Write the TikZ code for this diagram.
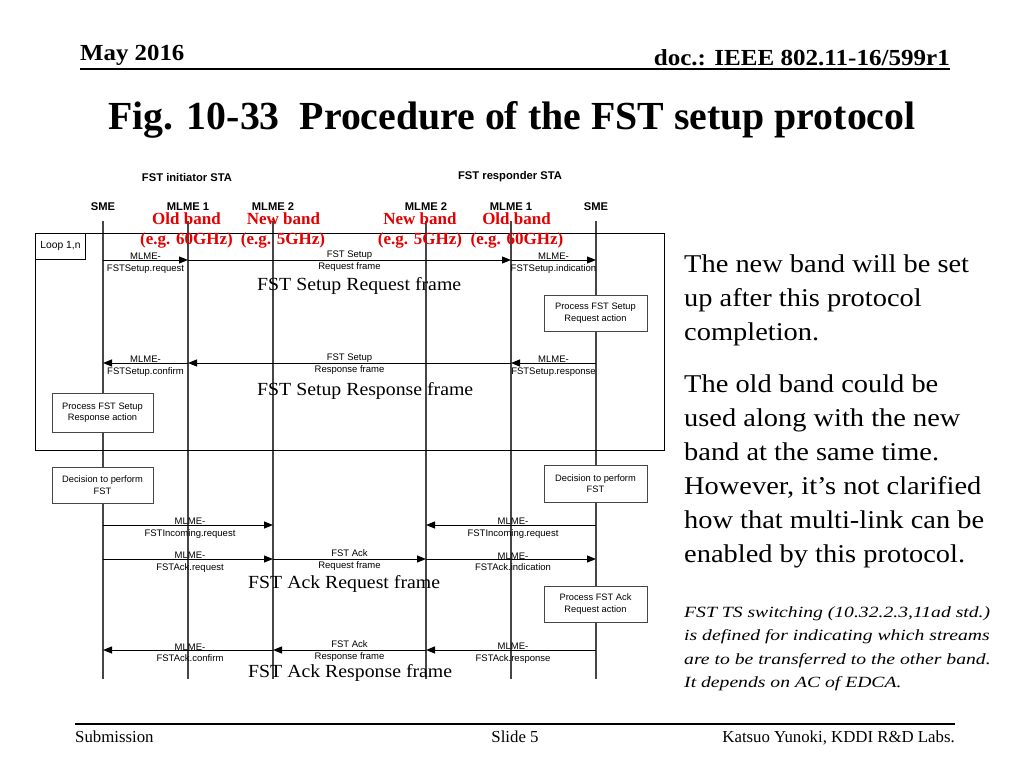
\documentclass[tikz,border=0pt]{standalone}
\usepackage{fontspec}
\usepackage{graphicx}
\setmainfont{Liberation Serif}
\newfontfamily\arial{Liberation Sans}
\usetikzlibrary{arrows.meta}
\definecolor{bandred}{RGB}{228,0,0}
\definecolor{lifegray}{RGB}{70,70,70}
\newcommand{\hstretch}[2]{\scalebox{#1}[1]{#2}}
\tikzset{
  life/.style={draw=lifegray, line width=1.3pt},
  msg/.style={draw=black, line width=1pt, -{Triangle[length=9pt,width=7pt]}},
  mlbl/.style={font=\arial\fontsize{9.5}{11.5}\selectfont, align=center, inner sep=0pt},
  hdr/.style={font=\arial\bfseries\fontsize{11.2}{12}\selectfont, inner sep=0pt},
  actbox/.style={draw=lifegray, fill=white, line width=1pt, font=\arial\fontsize{9.3}{11.5}\selectfont, align=center, inner sep=0pt},
  band/.style={font=\bfseries\fontsize{17}{18}\selectfont, text=bandred, inner sep=0pt},
  big/.style={font=\fontsize{18.5}{20}\selectfont, inner sep=0pt, anchor=west},
  rtxt/.style={font=\fontsize{25.6}{30}\selectfont, inner sep=0pt, anchor=base west},
  itxt/.style={font=\itshape\fontsize{15.6}{18}\selectfont, inner sep=0pt, anchor=base west},
  foot/.style={font=\fontsize{16.8}{18}\selectfont, inner sep=0pt},
  head/.style={font=\bfseries\fontsize{23}{26}\selectfont, inner sep=0pt},
}
\begin{document}
\begin{tikzpicture}[x=1pt,y=-1pt]
\useasboundingbox (0,0) rectangle (1024,768);

% ---------- slide header / footer ----------
\node[head, anchor=base west] (date) at (80,60) {\hstretch{1.08}{May 2016}};
\node[head, anchor=base east] (doc) at (950,66) {\hstretch{1.09}{doc.: IEEE 802.11-16/599r1}};
\coordinate (hl1) at (80,69);
\coordinate (hl2) at (950,69);
\draw[line width=2pt] (hl1) -- (hl2);
\node[font=\bfseries\fontsize{39.8}{44}\selectfont, inner sep=0pt, anchor=base] (title) at (512,129) {Fig. 10-33\ \ Procedure of the FST setup protocol};

\coordinate (fl1) at (75,724);
\coordinate (fl2) at (955,724);
\draw[line width=1.5pt] (fl1) -- (fl2);
\node[foot, anchor=base west] (sub) at (75,742) {Submission};
\node[foot, anchor=base] (slide) at (515,742) {Slide 5};
\node[foot, anchor=base east] (auth) at (955,742) {Katsuo Yunoki, KDDI R\&D Labs.};

% ---------- sequence diagram ----------
\node[hdr] (ini) at (187,177) {FST initiator STA};
\node[hdr] (res) at (510,177) {FST responder STA};

\node[hdr] (hSL)  at (103,207) {SME};
\node[hdr] (hM1L) at (188,207) {MLME 1};
\node[hdr] (hM2L) at (273,207) {MLME 2};
\node[hdr] (hM2R) at (426,207) {MLME 2};
\node[hdr] (hM1R) at (511,207) {MLME 1};
\node[hdr] (hSR)  at (596,207) {SME};

\foreach \n/\x in {SL/103, M1L/188, M2L/273, M2R/426, M1R/511, SR/596}{
  \coordinate (t\n) at (\x,221);
  \coordinate (b\n) at (\x,679);
  \draw[life] (t\n) -- (b\n);
}

% loop frame
\node[draw=black, line width=1pt, anchor=north west, minimum width=629pt, minimum height=217pt, inner sep=0pt] (loop) at (35,233) {};
\node[draw=black, fill=white, line width=1pt, anchor=north west, minimum width=50pt, minimum height=26pt, inner sep=0pt, font=\arial\fontsize{10.3}{12}\selectfont] (looplbl) at (35,233) {Loop 1,n};

% red band annotations
\node[band] (ob1) at (186.5,219) {Old band};
\node[band] (ob1f) at (186.5,240) {(e.g. 60GHz)};
\node[band] (nb1) at (283.5,219) {New band};
\node[band] (nb1f) at (283,240) {(e.g. 5GHz)};
\node[band] (nb2) at (420,219) {New band};
\node[band] (nb2f) at (420,240) {(e.g. 5GHz)};
\node[band] (ob2) at (516.5,219) {Old band};
\node[band] (ob2f) at (517,240) {(e.g. 60GHz)};

% --- FST Setup request
\draw[msg] (tSL |- 0,260) -- (tM1L |- 0,260);
\node[mlbl] (l1) at (145.5,263) {MLME-\\FSTSetup.request};
\draw[msg] (tM1L |- 0,260) -- (tM1R |- 0,260);
\node[mlbl] (l2) at (349.5,261) {FST Setup\\Request frame};
\draw[msg] (tM1R |- 0,260) -- (tSR |- 0,260);
\node[mlbl] (l3) at (553.5,263) {MLME-\\FSTSetup.indication};
\node[big] (bigA) at (257,286) {\hstretch{1.07}{FST Setup Request frame}};

\node[actbox, minimum width=103pt, minimum height=36pt] (procReq) at (595.5,313) {Process FST Setup\\Request action};

% --- FST Setup response
\draw[msg] (tSR |- 0,363) -- (tM1R |- 0,363);
\node[mlbl] (l4) at (553.5,366) {MLME-\\FSTSetup.response};
\draw[msg] (tM1R |- 0,363) -- (tM1L |- 0,363);
\node[mlbl] (l5) at (349.5,364) {FST Setup\\Response frame};
\draw[msg] (tM1L |- 0,363) -- (tSL |- 0,363);
\node[mlbl] (l6) at (145.5,366) {MLME-\\FSTSetup.confirm};
\node[big] (bigB) at (257,391) {\hstretch{1.07}{FST Setup Response frame}};

\node[actbox, minimum width=101pt, minimum height=39pt] (procResp) at (102.5,412.5) {Process FST Setup\\Response action};

% --- decisions
\node[actbox, minimum width=101pt, minimum height=36pt] (decL) at (102.5,485) {Decision to perform\\FST};
\node[actbox, minimum width=103pt, minimum height=37pt] (decR) at (595.5,483.5) {Decision to perform\\FST};

% --- FST Incoming
\draw[msg] (tSL |- 0,525) -- (tM2L |- 0,525);
\node[mlbl] (l7) at (190,528) {MLME-\\FSTIncoming.request};
\draw[msg] (tSR |- 0,525) -- (tM2R |- 0,525);
\node[mlbl] (l8) at (513,528) {MLME-\\FSTIncoming.request};

% --- FST Ack request
\draw[msg] (tSL |- 0,559) -- (tM2L |- 0,559);
\node[mlbl] (l9) at (190,562) {MLME-\\FSTAck.request};
\draw[msg] (tM2L |- 0,559) -- (tM2R |- 0,559);
\node[mlbl] (l10) at (349.5,560) {FST Ack\\Request frame};
\draw[msg] (tM2R |- 0,559) -- (tSR |- 0,559);
\node[mlbl] (l11) at (513,562) {MLME-\\FSTAck.indication};
\node[big] (bigC) at (248,584) {\hstretch{1.07}{FST Ack Request frame}};

\node[actbox, minimum width=103pt, minimum height=36pt] (procAck) at (595.5,604) {Process FST Ack\\Request action};

% --- FST Ack response
\draw[msg] (tSR |- 0,650) -- (tM2R |- 0,650);
\node[mlbl] (l12) at (513,653) {MLME-\\FSTAck.response};
\draw[msg] (tM2R |- 0,650) -- (tM2L |- 0,650);
\node[mlbl] (l13) at (349.5,651) {FST Ack\\Response frame};
\draw[msg] (tM2L |- 0,650) -- (tSL |- 0,650);
\node[mlbl] (l14) at (190,653) {MLME-\\FSTAck.confirm};
\node[big] (bigD) at (248,673) {\hstretch{1.07}{FST Ack Response frame}};

% ---------- right-hand text ----------
\node[rtxt] (r1) at (684,272) {\hstretch{1.11}{The new band will be set}};
\node[rtxt] (r2) at (684,306) {\hstretch{1.11}{up after this protocol}};
\node[rtxt] (r3) at (684,340) {\hstretch{1.11}{completion.}};
\node[rtxt] (r4) at (684,392.5) {\hstretch{1.11}{The old band could be}};
\node[rtxt] (r5) at (684,426.5) {\hstretch{1.11}{used along with the new}};
\node[rtxt] (r6) at (684,460.5) {\hstretch{1.11}{band at the same time.}};
\node[rtxt] (r7) at (684,494.5) {\hstretch{1.11}{However, it’s not clarified}};
\node[rtxt] (r8) at (684,528.5) {\hstretch{1.11}{how that multi-link can be}};
\node[rtxt] (r9) at (684,562.5) {\hstretch{1.11}{enabled by this protocol.}};

\node[itxt] (i1) at (684,617) {\hstretch{1.26}{FST TS switching (10.32.2.3,11ad std.)}};
\node[itxt] (i2) at (684,640.5) {\hstretch{1.26}{is defined for indicating which streams}};
\node[itxt] (i3) at (684,664) {\hstretch{1.26}{are to be transferred to the other band.}};
\node[itxt] (i4) at (684,687.5) {\hstretch{1.26}{It depends on AC of EDCA.}};
\end{tikzpicture}
\end{document}
